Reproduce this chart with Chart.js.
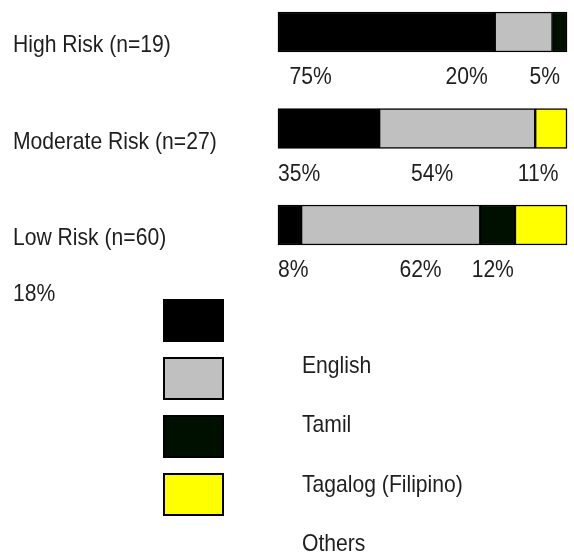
<!DOCTYPE html>
<html>
<head>
<meta charset="utf-8">
<script src="https://cdn.jsdelivr.net/npm/chart.js@4/dist/chart.umd.min.js"></script>
<style>
  html, body { margin: 0; padding: 0; background: #ffffff; }
  #wrap { position: relative; width: 574px; height: 556px; }
</style>
</head>
<body>
<div id="wrap"><canvas id="chart" width="574" height="556"></canvas></div>
<script>
// Risk groups and language shares (%)
const categories = ['High Risk (n=19)', 'Moderate Risk (n=27)', 'Low Risk (n=60)'];
const seriesNames = ['English', 'Tamil', 'Tagalog (Filipino)', 'Others'];
const english = [75, 35, 8];
const tamil   = [20, 54, 62];
const tagalog = [5, 0, 12];
const others  = [0, 11, 18];
const seriesColors = ['#000000', '#c0c0c0', '#001000', '#ffff00'];

// where each percentage label starts along the bar (axis units)
const labelAt = [[4, 58, 87], [0, 46, 83], [0, 42, 67]];

const FONT = '"Liberation Sans", Arial, sans-serif';
const TEXT = '#1e1e1e';
const NARROW = 0.88;   // condensed look for all text

const seriesValues = [english, tamil, tagalog, others];

function narrowText(ctx, str, x, y) {
  ctx.save();
  ctx.translate(x, y);
  ctx.scale(NARROW, 1);
  ctx.fillText(str, 0, 0);
  ctx.restore();
}

const annotate = {
  id: 'annotate',
  afterDatasetsDraw(chart) {
    const ctx = chart.ctx;
    const x = chart.scales.x, y = chart.scales.y;
    ctx.save();
    ctx.fillStyle = TEXT;
    ctx.font = '24px ' + FONT;
    ctx.textBaseline = 'alphabetic';
    ctx.textAlign = 'left';

    // row names on the left
    categories.forEach((c, i) => {
      narrowText(ctx, c, 13, y.getPixelForValue(i) + 20);
    });

    // percentage labels under each bar
    categories.forEach((c, i) => {
      const yy = y.getPixelForValue(i) + 52;
      let k = 0;
      seriesValues.forEach((vals) => {
        const v = vals[i];
        if (!v) return;
        if (k < labelAt[i].length) {
          narrowText(ctx, v + '%', x.getPixelForValue(labelAt[i][k]), yy);
        } else {
          narrowText(ctx, v + '%', 13, yy + 24);
        }
        k++;
      });
    });

    // legend: swatches, names set one row lower
    const bx = 164, bw = 59, bh = 41, top0 = 300, step = 58;
    seriesColors.forEach((col, i) => {
      const t = top0 + step * i;
      ctx.fillStyle = col;
      ctx.fillRect(bx, t, bw, bh);
      ctx.lineWidth = 2;
      ctx.strokeStyle = '#000';
      ctx.strokeRect(bx, t, bw, bh);
    });
    ctx.fillStyle = TEXT;
    seriesNames.forEach((n, i) => {
      narrowText(ctx, n, 302, 373 + 59.3 * i);
    });
    ctx.restore();
  }
};

new Chart(document.getElementById('chart'), {
  type: 'bar',
  data: {
    labels: categories,
    datasets: seriesNames.map((n, i) => ({
      label: n,
      data: seriesValues[i],
      backgroundColor: seriesColors[i],
      borderColor: '#000000',
      borderWidth: 1.5,
      borderSkipped: false,
      barThickness: 40,
      clip: false
    }))
  },
  options: {
    indexAxis: 'y',
    responsive: false,
    animation: false,
    devicePixelRatio: 1,
    layout: { padding: { left: 278, right: 7, top: 32, bottom: 331 } },
    scales: {
      x: { stacked: true, min: 0, max: 100, display: false },
      y: { stacked: true, display: false, offset: false }
    },
    plugins: { legend: { display: false }, tooltip: { enabled: false } }
  },
  plugins: [annotate]
});
</script>
</body>
</html>
